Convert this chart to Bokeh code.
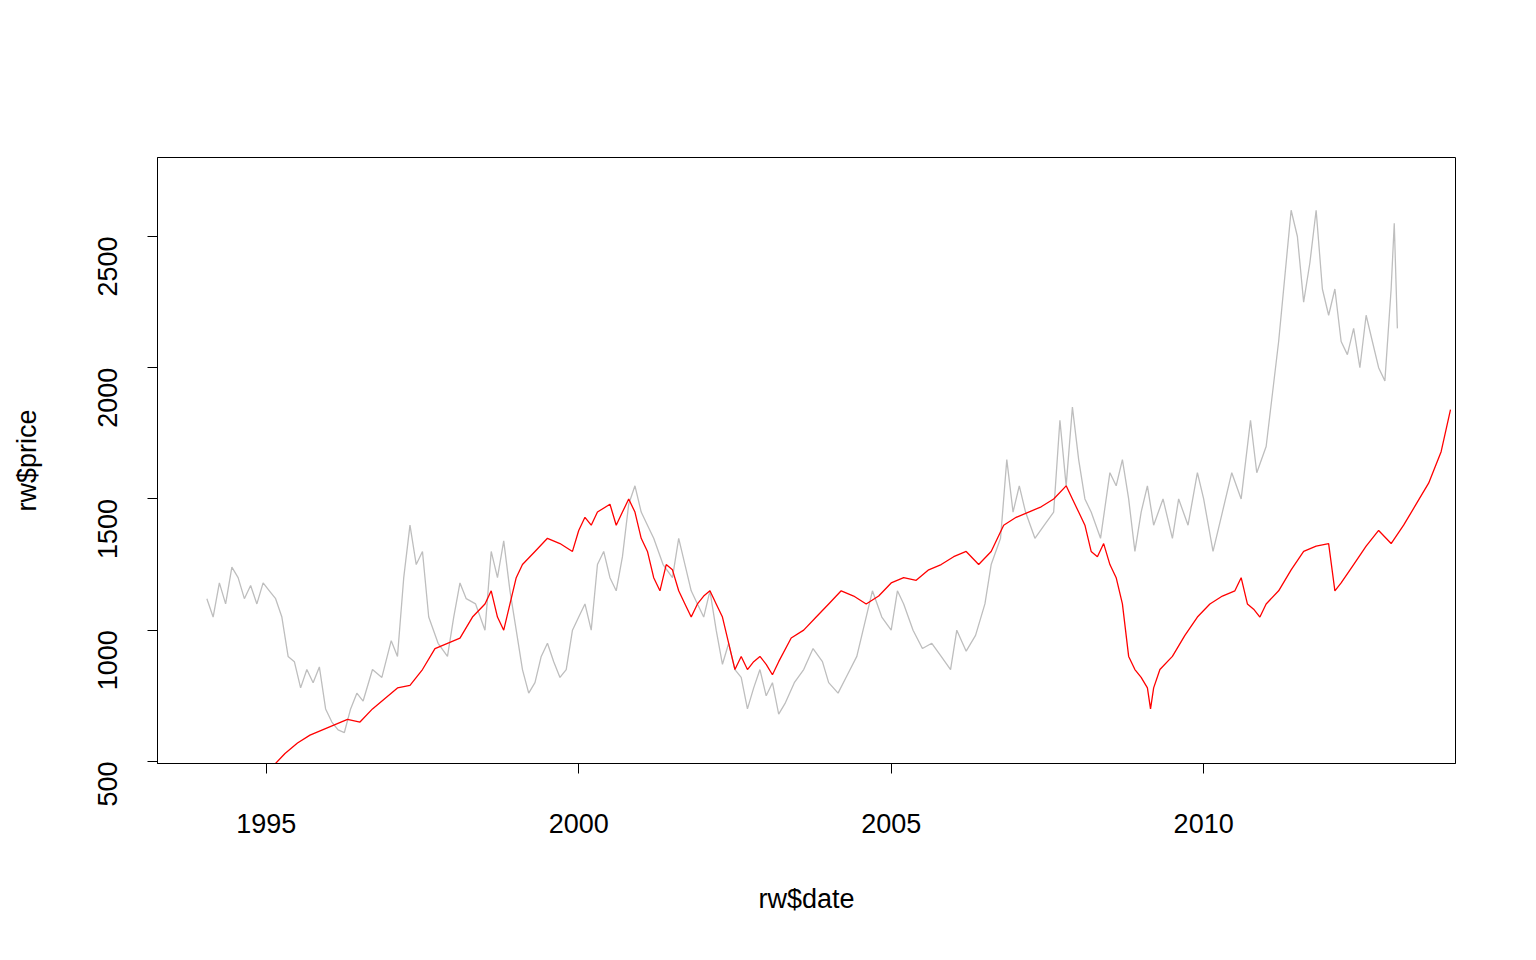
from bokeh.plotting import figure
from bokeh.models import Range1d, FixedTicker
from bokeh.embed import file_html
from bokeh.resources import INLINE
import math

gray_year = [1994.05, 1994.15, 1994.25, 1994.35, 1994.45, 1994.55, 1994.65, 1994.75, 1994.85, 1994.95,
             1995.05, 1995.15, 1995.25, 1995.35, 1995.45, 1995.55, 1995.65, 1995.75, 1995.85, 1995.95,
             1996.05, 1996.15, 1996.25, 1996.35, 1996.45, 1996.55, 1996.7, 1996.85, 1997.0, 1997.1,
             1997.2, 1997.3, 1997.4, 1997.5, 1997.6, 1997.75, 1997.9, 1998.0, 1998.1, 1998.2,
             1998.35, 1998.5, 1998.6, 1998.7, 1998.8, 1998.9, 1999.0, 1999.1, 1999.2, 1999.3,
             1999.4, 1999.5, 1999.6, 1999.7, 1999.8, 1999.9, 2000.0, 2000.1, 2000.2, 2000.3,
             2000.4, 2000.5, 2000.6, 2000.7, 2000.8, 2000.9, 2001.0, 2001.1, 2001.2, 2001.35,
             2001.5, 2001.6, 2001.7, 2001.8, 2001.9, 2002.0, 2002.1, 2002.2, 2002.3, 2002.4,
             2002.5, 2002.6, 2002.7, 2002.8, 2002.9, 2003.0, 2003.1, 2003.2, 2003.3, 2003.45,
             2003.6, 2003.75, 2003.9, 2004.0, 2004.15, 2004.3, 2004.45, 2004.55, 2004.7, 2004.85,
             2005.0, 2005.1, 2005.2, 2005.35, 2005.5, 2005.65, 2005.8, 2005.95, 2006.05, 2006.2,
             2006.35, 2006.5, 2006.6, 2006.75, 2006.85, 2006.95, 2007.05, 2007.15, 2007.3, 2007.45,
             2007.6, 2007.7, 2007.8, 2007.9, 2008.0, 2008.1, 2008.2, 2008.35, 2008.5, 2008.6,
             2008.7, 2008.8, 2008.9, 2009.0, 2009.1, 2009.2, 2009.35, 2009.5, 2009.6, 2009.75,
             2009.9, 2010.0, 2010.15, 2010.3, 2010.45, 2010.6, 2010.75, 2010.85, 2011.0, 2011.1,
             2011.2, 2011.3, 2011.4, 2011.5, 2011.6, 2011.7, 2011.8, 2011.9, 2012.0, 2012.1,
             2012.2, 2012.3, 2012.4, 2012.5, 2012.6, 2012.7, 2012.8, 2012.9, 2013.0, 2013.05, 2013.1]
gray_price = [1120, 1050, 1180, 1100, 1240, 1200, 1120, 1170, 1100, 1180,
              1150, 1120, 1050, 900, 880, 780, 850, 800, 860, 700,
              650, 620, 610, 700, 760, 730, 850, 820, 960, 900,
              1200, 1400, 1250, 1300, 1050, 950, 900, 1050, 1180, 1120,
              1100, 1000, 1300, 1200, 1340, 1150, 1000, 850, 760, 800,
              900, 950, 880, 820, 850, 1000, 1050, 1100, 1000, 1250,
              1300, 1200, 1150, 1280, 1480, 1550, 1450, 1400, 1350, 1250,
              1200, 1350, 1250, 1150, 1100, 1050, 1150, 1000, 870, 950,
              850, 820, 700, 780, 850, 750, 800, 680, 720, 800,
              850, 930, 880, 800, 760, 830, 900, 1000, 1150, 1050,
              1000, 1150, 1100, 1000, 930, 950, 900, 850, 1000, 920,
              980, 1100, 1250, 1350, 1650, 1450, 1550, 1450, 1350, 1400,
              1450, 1800, 1550, 1850, 1650, 1500, 1450, 1350, 1600, 1550,
              1650, 1500, 1300, 1450, 1550, 1400, 1500, 1350, 1500, 1400,
              1600, 1500, 1300, 1450, 1600, 1500, 1800, 1600, 1700, 1900,
              2100, 2350, 2600, 2500, 2250, 2400, 2600, 2300, 2200, 2300,
              2100, 2050, 2150, 2000, 2200, 2100, 2000, 1950, 2300, 2550, 2150]

red_year = [1995.1, 1995.3, 1995.5, 1995.7, 1995.9, 1996.1, 1996.3, 1996.5, 1996.7, 1996.9,
            1997.1, 1997.3, 1997.5, 1997.7, 1997.9, 1998.1, 1998.3, 1998.5, 1998.6, 1998.7,
            1998.8, 1998.9, 1999.0, 1999.1, 1999.3, 1999.5, 1999.7, 1999.9, 2000.0, 2000.1,
            2000.2, 2000.3, 2000.5, 2000.6, 2000.7, 2000.8, 2000.9, 2001.0, 2001.1, 2001.2,
            2001.3, 2001.4, 2001.5, 2001.6, 2001.7, 2001.8, 2001.9, 2002.0, 2002.1, 2002.2,
            2002.3, 2002.4, 2002.5, 2002.6, 2002.7, 2002.8, 2002.9, 2003.0, 2003.1, 2003.2,
            2003.4, 2003.6, 2003.8, 2004.0, 2004.2, 2004.4, 2004.6, 2004.8, 2005.0, 2005.2,
            2005.4, 2005.6, 2005.8, 2006.0, 2006.2, 2006.4, 2006.6, 2006.8, 2007.0, 2007.2,
            2007.4, 2007.6, 2007.8, 2007.9, 2008.0, 2008.1, 2008.2, 2008.3, 2008.4, 2008.5,
            2008.6, 2008.7, 2008.8, 2008.9, 2009.0, 2009.1, 2009.15, 2009.2, 2009.3, 2009.5,
            2009.7, 2009.9, 2010.1, 2010.3, 2010.5, 2010.6, 2010.7, 2010.8, 2010.9, 2011.0,
            2011.2, 2011.4, 2011.6, 2011.8, 2012.0, 2012.1, 2012.2, 2012.4, 2012.6, 2012.8,
            2013.0, 2013.2, 2013.4, 2013.6, 2013.8, 2013.95]
red_price = [480, 530, 570, 600, 620, 640, 660, 650, 700, 740,
             780, 790, 850, 930, 950, 970, 1050, 1100, 1150, 1050,
             1000, 1100, 1200, 1250, 1300, 1350, 1330, 1300, 1380, 1430,
             1400, 1450, 1480, 1400, 1450, 1500, 1450, 1350, 1300, 1200,
             1150, 1250, 1230, 1150, 1100, 1050, 1100, 1130, 1150, 1100,
             1050, 950, 850, 900, 850, 880, 900, 870, 830, 880,
             970, 1000, 1050, 1100, 1150, 1130, 1100, 1130, 1180, 1200,
             1190, 1230, 1250, 1280, 1300, 1250, 1300, 1400, 1430, 1450,
             1470, 1500, 1550, 1500, 1450, 1400, 1300, 1280, 1330, 1250,
             1200, 1100, 900, 850, 820, 780, 700, 780, 850, 900,
             980, 1050, 1100, 1130, 1150, 1200, 1100, 1080, 1050, 1100,
             1150, 1230, 1300, 1320, 1330, 1150, 1180, 1250, 1320, 1380,
             1330, 1400, 1480, 1560, 1680, 1840]

p = figure(width=1520, height=940, output_backend="svg", toolbar_location=None,
           x_range=Range1d(1993.26, 2014.03), y_range=Range1d(492, 2801),
           min_border_left=157, min_border_right=65, min_border_top=157, min_border_bottom=177)

p.line(gray_year, gray_price, line_color="#BEBEBE", line_width=1.3)
p.line(red_year, red_price, line_color="red", line_width=1.3)

p.grid.visible = False
p.outline_line_color = "black"
p.background_fill_color = "white"
p.xaxis.ticker = FixedTicker(ticks=[1995, 2000, 2005, 2010])
p.yaxis.ticker = FixedTicker(ticks=[500, 1000, 1500, 2000, 2500])
p.yaxis.major_label_orientation = math.pi / 2
p.xaxis.axis_label = "rw$date"
p.yaxis.axis_label = "rw$price"
for ax in [p.xaxis[0], p.yaxis[0]]:
    ax.major_label_text_font = "Liberation Sans"
    ax.major_label_text_font_size = "27px"
    ax.major_label_text_color = "black"
    ax.axis_label_text_font = "Liberation Sans"
    ax.axis_label_text_font_size = "27px"
    ax.axis_label_text_color = "black"
    ax.axis_label_text_font_style = "normal"
    ax.major_tick_out = 10
    ax.major_tick_in = 0
    ax.minor_tick_out = 0
    ax.minor_tick_in = 0
p.xaxis.major_label_standoff = 40
p.xaxis.axis_label_standoff = 48
p.yaxis.major_label_standoff = 40
p.yaxis.axis_label_standoff = 44

open("out.html", "w").write(file_html(p, INLINE))
